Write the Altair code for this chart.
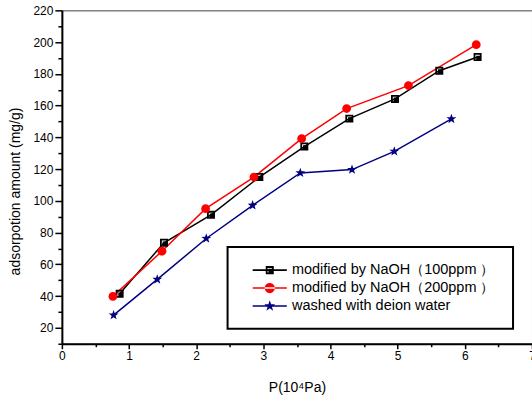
import altair as alt
import pandas as pd

series_names = ["modified by NaOH（100ppm ）", "modified by NaOH（200ppm ）", "washed with deion water"]
series_colors = ["#000000", "#ff0000", "#000080"]

x_100 = [0.86, 1.52, 2.22, 2.94, 3.61, 4.28, 4.96, 5.62, 6.19]
y_100 = [41.5, 73.6, 91.2, 115.0, 134.2, 151.8, 164.2, 182.0, 190.6]
x_200 = [0.76, 1.49, 2.14, 2.86, 3.57, 4.24, 5.16, 6.17]
y_200 = [39.8, 68.3, 95.1, 115.0, 139.2, 158.1, 172.6, 198.4]
x_wat = [0.77, 1.42, 2.15, 2.84, 3.55, 4.32, 4.95, 5.80]
y_wat = [28.0, 50.5, 76.3, 97.2, 117.6, 119.7, 131.2, 151.6]

x_ticks = [i * 0.5 for i in range(15)]
y_ticks = list(range(10, 230, 10))

rows = []
for name, xs, ys in zip(series_names, [x_100, x_200, x_wat], [y_100, y_200, y_wat]):
    for i, (xv, yv) in enumerate(zip(xs, ys)):
        rows.append({"series": name, "p": xv, "q": yv, "idx": i})
df = pd.DataFrame(rows)

# marker shapes (unit box -1..1)
square_path = "M-1,-1H1V1H-1Z M-0.55,-0.55V0.6H-0.33V-0.33H0.55V-0.55Z"
circle_path = "M-1.1,0A1.1,1.1 0 1,0 1.1,0A1.1,1.1 0 1,0 -1.1,0Z"
star_path = ("M0,-1.3L0.306,-0.421L1.236,-0.402L0.494,0.161L0.764,1.052L0,0.52"
             "L-0.764,1.052L-0.494,0.161L-1.236,-0.402L-0.306,-0.421Z")

# legend symbols: marker with line tails, drawn shifted right (centre at x = 3.17 units)
tail = "M0.32,-0.13H6.02V0.13H0.32Z "
leg_square = tail + "M2.5,-0.67H3.84V0.67H2.5Z M2.8,-0.37V0.4H2.95V-0.22H3.54V-0.37Z"
leg_circle = tail + "M2.32,0A0.85,0.85 0 1,0 4.02,0A0.85,0.85 0 1,0 2.32,0Z"
leg_star = tail + ("M3.17,-0.95L3.394,-0.308L4.074,-0.294L3.531,0.118L3.728,0.769L3.17,0.38"
                   "L2.612,0.769L2.809,0.118L2.266,-0.294L2.946,-0.308Z")

x_scale = alt.Scale(domain=[0, 7], nice=False, zero=False)
y_scale = alt.Scale(domain=[10, 220], nice=False, zero=False)
color_scale = alt.Scale(domain=series_names, range=series_colors)

x_axis = alt.Axis(
    title="P(10⁴Pa)", values=x_ticks, tickCount=len(x_ticks),
    labelExpr="datum.value % 1 == 0 ? format(datum.value, 'd') : ''",
    tickSize=alt.condition("datum.value % 1 == 0", alt.value(5), alt.value(3)),
    labelOverlap=False, labelFlush=False, labelPadding=2, titlePadding=19,
)
y_axis = alt.Axis(
    title="adsorpotion amount (mg/g)", values=y_ticks, tickCount=len(y_ticks),
    labelExpr="datum.value % 20 == 0 ? format(datum.value, 'd') : ''",
    tickSize=alt.condition("datum.value % 20 == 0", alt.value(7), alt.value(4)),
    labelOverlap=False, labelFlush=False, labelPadding=2,
    titleX=-46, titleY=181, titleBaseline="middle", titleAngle=270,
)

base = alt.Chart(df)

lines = base.mark_line(strokeWidth=1.5).encode(
    x=alt.X("p:Q", scale=x_scale, axis=x_axis),
    y=alt.Y("q:Q", scale=y_scale, axis=y_axis),
    color=alt.Color("series:N", scale=color_scale, legend=None),
    detail="series:N",
    order="idx:Q",
)

points = base.mark_point(filled=True, size=64, opacity=1).encode(
    x=alt.X("p:Q", scale=x_scale),
    y=alt.Y("q:Q", scale=y_scale),
    color=alt.Color("series:N", scale=color_scale, legend=None),
    shape=alt.Shape("series:N", scale=alt.Scale(domain=series_names,
                    range=[square_path, circle_path, star_path]), legend=None),
)

legend_layer = base.transform_filter("false").mark_point(filled=True, size=144, opacity=1).encode(
    x=alt.X("p:Q", scale=x_scale),
    y=alt.Y("q:Q", scale=y_scale),
    color=alt.Color("series:N", scale=color_scale,
                    legend=alt.Legend(title=None, orient="none", legendX=166, legendY=237,
                                      symbolSize=144, symbolOpacity=1, symbolStrokeWidth=0,
                                      labelFontSize=14.5, labelOffset=34, padding=16,
                                      rowPadding=3, labelLimit=400,
                                      labelExpr="datum.label + '\u00a0\u00a0\u00a0'")),
    shape=alt.Shape("series:N", scale=alt.Scale(domain=series_names,
                    range=[leg_square, leg_circle, leg_star])),
)

chart = alt.layer(lines, points, legend_layer).resolve_scale(
    color="independent", shape="independent"
).properties(
    width=471, height=334,
    autosize=alt.AutoSizeParams(type="none"),
    padding={"left": 62, "top": 10, "right": 0, "bottom": 57},
).configure_view(
    stroke="#404040", strokeWidth=1
).configure_axis(
    grid=False, domainColor="#000000", domainWidth=2, tickColor="#000000", tickWidth=1.5,
    labelFont="Liberation Sans", labelFontSize=12, labelColor="#000000",
    titleFont="Liberation Sans", titleFontSize=14, titleFontWeight="normal", titleColor="#000000",
).configure_legend(
    labelFont="Liberation Sans", labelColor="#000000", labelLimit=400,
    strokeColor="#000000", strokeWidth=2, fillColor="#ffffff",
)

chart.save("out.html", embed_options={"renderer": "svg", "actions": False})
